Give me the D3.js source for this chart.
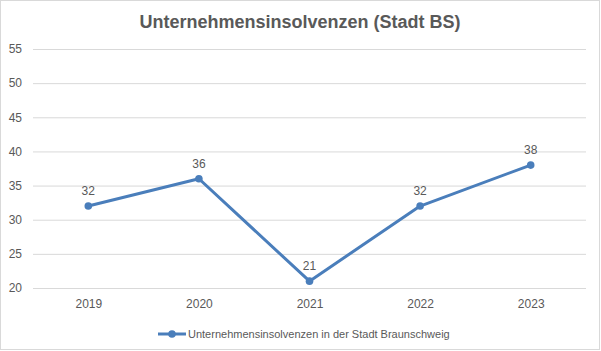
<!DOCTYPE html>
<html>
<head>
<meta charset="utf-8">
<script src="https://cdn.jsdelivr.net/npm/d3@7"></script>
<style>
  body { margin: 0; background: #fff; }
  text { font-family: "Liberation Sans", Arial, sans-serif; }
</style>
</head>
<body>
<div id="chart"></div>
<script>
// data
const years = ['2019', '2020', '2021', '2022', '2023'];
const insolvencies = [32, 36, 21, 32, 38];
const yTicks = [20, 25, 30, 35, 40, 45, 50, 55];
const seriesName = 'Unternehmensinsolvenzen in der Stadt Braunschweig';
const chartTitle = 'Unternehmensinsolvenzen (Stadt BS)';

let dim = { width: 601, height: 351 };
let plot = { left: 33, right: 586, top: 49, bottom: 288 };
let blue = '#4a7ebb', grey = '#595959';

let svg = d3.select('#chart').append('svg')
    .attr('width', dim.width)
    .attr('height', dim.height);

// outer frame
svg.append('rect')
    .attr('x', 0.5).attr('y', 0.5)
    .attr('width', dim.width - 2).attr('height', dim.height - 2)
    .attr('fill', '#fff').attr('stroke', '#d9d9d9');

svg.append('text')
    .attr('x', 300).attr('y', 28)
    .attr('text-anchor', 'middle')
    .attr('font-size', 18).attr('font-weight', 'bold')
    .attr('fill', grey)
    .text(chartTitle);

let x = d3.scalePoint()
    .domain(years)
    .range([plot.left, plot.right])
    .padding(0.5);

let y = d3.scaleLinear()
    .domain([20, 55])
    .range([plot.bottom, plot.top]);

// gridlines + y labels
let axisY = svg.append('g')
    .attr('transform', `translate(${plot.left},0)`)
    .call(d3.axisLeft(y).tickValues(yTicks).tickSize(-(plot.right - plot.left)).tickPadding(11));
axisY.select('.domain').remove();
axisY.selectAll('.tick line').attr('stroke', '#d9d9d9');
axisY.selectAll('.tick text')
    .attr('fill', grey).attr('font-size', 12)
    .attr('font-family', '"Liberation Sans", Arial, sans-serif');

// x labels
let axisX = svg.append('g')
    .attr('transform', `translate(0,${plot.bottom})`)
    .call(d3.axisBottom(x).tickSize(0).tickPadding(11));
axisX.select('.domain').remove();
axisX.selectAll('.tick text')
    .attr('fill', grey).attr('font-size', 12)
    .attr('font-family', '"Liberation Sans", Arial, sans-serif');

let pts = years.map((yr, i) => ({ year: yr, value: insolvencies[i] }));

svg.append('path')
    .datum(pts)
    .attr('fill', 'none')
    .attr('stroke', blue)
    .attr('stroke-width', 3)
    .attr('stroke-linejoin', 'round')
    .attr('d', d3.line().x(d => x(d.year)).y(d => y(d.value)));

svg.selectAll('circle.pt')
    .data(pts)
    .enter().append('circle')
    .attr('class', 'pt')
    .attr('cx', d => x(d.year))
    .attr('cy', d => y(d.value))
    .attr('r', 3.8)
    .attr('fill', blue);

svg.selectAll('text.lbl')
    .data(pts)
    .enter().append('text')
    .attr('class', 'lbl')
    .attr('x', d => x(d.year))
    .attr('y', d => y(d.value) - 11)
    .attr('text-anchor', 'middle')
    .attr('font-size', 12)
    .attr('fill', grey)
    .text(d => d.value);

// legend
let lg = svg.append('g').attr('transform', 'translate(158,334)');
lg.append('line')
    .attr('x1', 0).attr('x2', 28)
    .attr('stroke', blue).attr('stroke-width', 3);
lg.append('circle').attr('cx', 14).attr('r', 3.8).attr('fill', blue);
lg.append('text')
    .attr('x', 30).attr('y', 4)
    .attr('font-size', 11)
    .attr('fill', grey)
    .text(seriesName);
</script>
</body>
</html>
